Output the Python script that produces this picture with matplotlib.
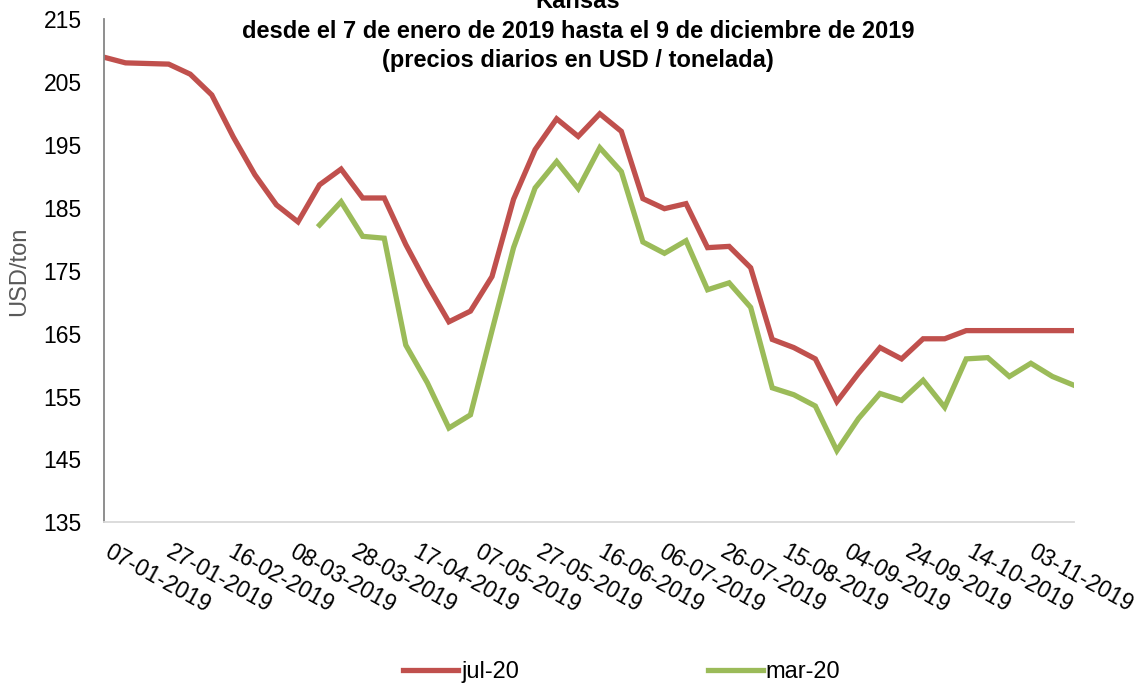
import matplotlib
matplotlib.use("Agg")
import matplotlib.pyplot as plt
import matplotlib.transforms as mtransforms
import numpy as np
import pandas as pd

plt.rcParams['font.family'] = ['Liberation Sans', 'DejaVu Sans']

dates = ["2019-01-07", "2019-01-14", "2019-01-21", "2019-01-28", "2019-02-04", "2019-02-11",
         "2019-02-18", "2019-02-25", "2019-03-04", "2019-03-11", "2019-03-18", "2019-03-25",
         "2019-04-01", "2019-04-08", "2019-04-15", "2019-04-22", "2019-04-29", "2019-05-06",
         "2019-05-13", "2019-05-20", "2019-05-27", "2019-06-03", "2019-06-10", "2019-06-17",
         "2019-06-24", "2019-07-01", "2019-07-08", "2019-07-15", "2019-07-22", "2019-07-29",
         "2019-08-05", "2019-08-12", "2019-08-19", "2019-08-26", "2019-09-02", "2019-09-09",
         "2019-09-16", "2019-09-23", "2019-09-30", "2019-10-07", "2019-10-14", "2019-10-21",
         "2019-10-28", "2019-11-04", "2019-11-11", "2019-11-18"]

jul20 = [209.0, 208.1, 208.0, 207.9, 206.3, 203.0, 196.3, 190.3, 185.5, 182.8,
         188.7, 191.2, 186.6, 186.6, 179.2, 172.8, 166.9, 168.6, 174.1, 186.4,
         194.3, 199.2, 196.4, 200.0, 197.2, 186.5, 184.9, 185.7, 178.7, 178.9,
         175.5, 164.1, 162.8, 161.0, 154.2, 158.7, 162.8, 161.0, 164.2, 164.2,
         165.5, 165.5, 165.5, 165.5, 165.5, 165.5]

mar20 = [np.nan] * 10 + [
         182.3, 186.0, 180.5, 180.2, 163.2, 157.2, 150.0, 152.1, 165.5, 178.7,
         188.2, 192.4, 188.1, 194.6, 190.8, 179.6, 177.8, 179.8, 172.0, 173.1,
         169.2, 156.4, 155.3, 153.5, 146.4, 151.5, 155.5, 154.4, 157.6, 153.3,
         161.0, 161.2, 158.2, 160.3, 158.2, 156.8]

tick_dates = ["2019-01-07", "2019-01-27", "2019-02-16", "2019-03-08", "2019-03-28", "2019-04-17",
              "2019-05-07", "2019-05-27", "2019-06-16", "2019-07-06", "2019-07-26", "2019-08-15",
              "2019-09-04", "2019-09-24", "2019-10-14", "2019-11-03"]
tick_labels = ["07-01-2019", "27-01-2019", "16-02-2019", "08-03-2019", "28-03-2019", "17-04-2019",
               "07-05-2019", "27-05-2019", "16-06-2019", "06-07-2019", "26-07-2019", "15-08-2019",
               "04-09-2019", "24-09-2019", "14-10-2019", "03-11-2019"]
y_ticks = [135, 145, 155, 165, 175, 185, 195, 205, 215]

title = ("Kansas\n"
         "desde el 7 de enero de 2019 hasta el 9 de diciembre de 2019\n"
         "(precios diarios en USD / tonelada)")

x = pd.to_datetime(dates)
xt = pd.to_datetime(tick_dates)

fig = plt.figure(figsize=(11.47, 6.88), dpi=100)
ax = fig.add_axes([104/1147, 1-522.3/688, (1074-104)/1147, (522.3-19.5)/688])

red = "#C0504D"
green = "#9BBB59"
l1, = ax.plot(x, jul20, color=red, lw=3.8, solid_joinstyle='miter', label="jul-20")
l2, = ax.plot(x, mar20, color=green, lw=3.8, solid_joinstyle='miter', label="mar-20")

ax.set_xlim(x[0], x[-1])
ax.set_ylim(135, 215)
ax.set_yticks(y_ticks)
ax.set_yticklabels([str(v) for v in y_ticks], fontsize=16.5)
ax.set_xticks(xt)
ax.set_xticklabels(tick_labels, fontsize=16.5, rotation=-29, ha='left', va='top',
                   rotation_mode='anchor')
ax.tick_params(axis='y', length=0, pad=16)
ax.tick_params(axis='x', length=0, pad=13)
offset = mtransforms.ScaledTranslation(8/100, 0, fig.dpi_scale_trans)
for lab in ax.get_xticklabels():
    lab.set_transform(lab.get_transform() + offset)

for s in ['top', 'right']:
    ax.spines[s].set_visible(False)
ax.spines['left'].set_color('#868686')
ax.spines['left'].set_linewidth(1.3)
ax.spines['bottom'].set_color('#D9D9D9')
ax.spines['bottom'].set_linewidth(1.3)

ax.set_ylabel("USD/ton", fontsize=17, color='#595959')
ax.yaxis.set_label_coords(-0.0765, 0.5)

fig.text(578/1147, 1-31/688, title, ha='center', va='center', fontsize=17,
         fontweight='bold', linespacing=1.36)

fig.legend(handles=[l1, l2], loc='center', bbox_to_anchor=(622/1147, 1-672/688),
           ncol=2, frameon=False, fontsize=17, handlelength=2.33, columnspacing=8.0,
           handletextpad=0.12)

fig.savefig("out.png", dpi=100)
